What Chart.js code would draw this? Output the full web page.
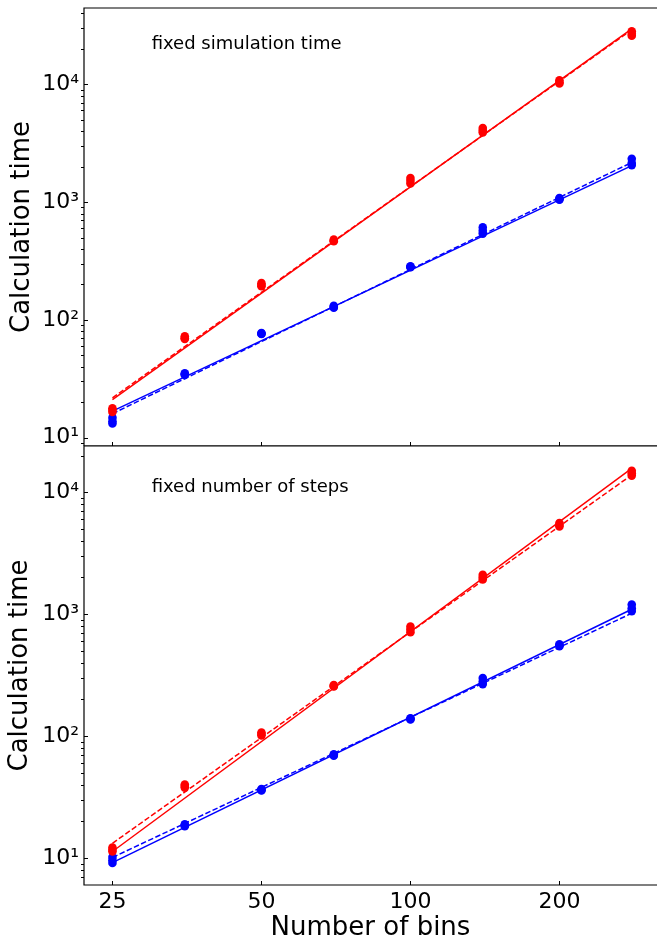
<!DOCTYPE html>
<html><head><meta charset="utf-8">
<script src="https://cdn.jsdelivr.net/npm/chart.js@4"></script>
<style>
html,body{margin:0;padding:0;background:#fff;width:657px;height:944px;overflow:hidden}
canvas{position:absolute;left:0}
#top{top:0}
#bot{top:440px}
</style></head><body>
<canvas id="top" width="657" height="446"></canvas>
<canvas id="bot" width="657" height="504"></canvas>
<script>
// ---- data ----
const bins = [25, 35, 50, 70, 100, 140, 200, 280];
const fitBins = [25, 280];
const xTickValues = [25, 50, 100, 200];

// panel 1: fixed simulation time (three repeated runs per method)
const topRedRun1  = [17.8, 72.5, 205, 480, 1600, 4250, 10800, 28200];
const topRedRun2  = [17.2, 70,   198, 470, 1520, 4050, 10400, 26800];
const topRedRun3  = [16.5, 69,   193, 465, 1440, 3900, 10150, 25800];
const topBlueRun1 = [14.8, 35.2, 77.5, 132, 285, 610, 1080, 2330];
const topBlueRun2 = [13.8, 34.5, 76.5, 129, 282, 570, 1060, 2150];
const topBlueRun3 = [13.2, 34.0, 76,   127, 280, 540, 1050, 2060];
const topRedFitSolid   = [21.0, 29500];
const topRedFitDashed  = [21.8, 29000];
const topBlueFitSolid  = [16.8, 2040];
const topBlueFitDashed = [16.0, 2170];

// panel 2: fixed number of steps
const botRedRun1  = [12.2, 40,   107, 262, 790, 2100, 5600, 15000];
const botRedRun2  = [11.7, 39,   104, 258, 750, 2000, 5400, 14300];
const botRedRun3  = [11.3, 37.8, 101, 255, 710, 1930, 5250, 13700];
const botBlueRun1 = [10.2, 18.9, 36.8, 71, 140,   300, 565, 1200];
const botBlueRun2 = [9.6,  18.5, 36.2, 70, 138.5, 280, 555, 1120];
const botBlueRun3 = [9.1,  18.2, 35.8, 69, 137,   267, 545, 1060];
const botRedFitSolid   = [11.3, 15700];
const botRedFitDashed  = [13.2, 13870];
const botBlueFitSolid  = [9.15, 1097];
const botBlueFitDashed = [10.1, 1017];

const yTitle = 'Calculation time';
const xTitle = 'Number of bins';
const topNote = 'fixed simulation time';
const botNote = 'fixed number of steps';
const topNoteAt = [30, 20000];
const botNoteAt = [30, 10000];

const xRange = [21.9, 314.9];
const topYRange = [8.5, 44430];
const botYRange = [6.004, 23970];

// ---- rendering ----
const FONT = "'DejaVu Sans', sans-serif";
const RED = '#ff0000', BLUE = '#0000ff';
const SUP = {0:'⁰',1:'¹',2:'²',3:'³',4:'⁴',5:'⁵'};

function pts(xs, ys){ return xs.map((x,i)=>({x:x, y:ys[i]})); }
function pointSet(ys, color){
  return {data: pts(bins, ys), backgroundColor: color, borderColor: color, borderWidth: 0,
          pointRadius: 4.3, pointHoverRadius: 4.3, showLine: false};
}
function fitSet(ys, color, dashed){
  return {data: pts(fitBins, ys), borderColor: color, backgroundColor: color, borderWidth: 1.5,
          borderDash: dashed ? [5.5, 2.4] : [], pointRadius: 0, showLine: true, fill: false};
}
function decadeLabel(value){
  const e = Math.log10(value);
  const r = Math.round(e);
  if (Math.abs(e - r) < 1e-6) return '10' + SUP[r];
  return '';
}
function zeroPad(s){ s.paddingTop = 0; s.paddingBottom = 0; s.paddingLeft = 0; s.paddingRight = 0; }

const framePlugin = {
  id: 'frame',
  afterDraw(chart, args, opts){
    const {ctx, chartArea: a} = chart;
    const x = chart.scales.x, y = chart.scales.y;
    ctx.save();
    ctx.strokeStyle = '#000';
    ctx.lineWidth = 1.2;
    ctx.beginPath();
    ctx.moveTo(a.right + 2, a.top); ctx.lineTo(a.left, a.top);
    ctx.lineTo(a.left, a.bottom); ctx.lineTo(a.right + 2, a.bottom);
    ctx.stroke();
    ctx.lineWidth = 1;
    ctx.beginPath();
    const lo = Math.floor(Math.log10(y.min)), hi = Math.ceil(Math.log10(y.max));
    for (let d = lo; d <= hi; d++){
      for (let k = 1; k <= 9; k++){
        const v = k * Math.pow(10, d);
        if (v < y.min || v > y.max) continue;
        const py = Math.round(y.getPixelForValue(v)) + 0.5;
        if (k === 1){ ctx.moveTo(a.left, py); ctx.lineTo(a.left + 4, py); }
        else { ctx.moveTo(a.left - 3, py); ctx.lineTo(a.left, py); }
      }
    }
    xTickValues.forEach(v => {
      const px = Math.round(x.getPixelForValue(v)) + 0.5;
      ctx.moveTo(px, a.bottom); ctx.lineTo(px, a.bottom - 4);
    });
    ctx.stroke();
    ctx.fillStyle = '#000';
    ctx.font = '18px ' + FONT;
    ctx.textAlign = 'left';
    ctx.textBaseline = 'alphabetic';
    ctx.fillText(opts.text, x.getPixelForValue(opts.at[0]), y.getPixelForValue(opts.at[1]));
    ctx.restore();
  }
};

function datasets(r1, r2, r3, b1, b2, b3, rs, rd, bs, bd){
  return [
    pointSet(r1, RED), pointSet(r2, RED), pointSet(r3, RED),
    pointSet(b1, BLUE), pointSet(b2, BLUE), pointSet(b3, BLUE),
    fitSet(rs, RED, false), fitSet(rd, RED, true),
    fitSet(bs, BLUE, false), fitSet(bd, BLUE, true)
  ];
}

function yScale(range, titlePad){
  return {
    type: 'logarithmic', min: range[0], max: range[1],
    grid: {display: false, drawTicks: false}, border: {display: false},
    ticks: {autoSkip: false, font: {family: FONT, size: 22}, color: '#000', padding: 5, callback: decadeLabel},
    title: {display: true, text: yTitle, font: {family: FONT, size: 26}, color: '#000', padding: {top: titlePad, bottom: 0}},
    afterFit: s => { s.width = 84; zeroPad(s); }
  };
}

new Chart(document.getElementById('top'), {
  type: 'scatter',
  data: {datasets: datasets(topRedRun1, topRedRun2, topRedRun3, topBlueRun1, topBlueRun2, topBlueRun3,
                            topRedFitSolid, topRedFitDashed, topBlueFitSolid, topBlueFitDashed)},
  options: {
    responsive: false, animation: false, devicePixelRatio: 1,
    layout: {autoPadding: false, padding: {top: 8, left: 0, right: 0, bottom: 0}},
    plugins: {legend: {display: false}, tooltip: {enabled: false}, frame: {text: topNote, at: topNoteAt}},
    scales: {
      x: {type: 'logarithmic', min: xRange[0], max: xRange[1], grid: {display: false, drawTicks: false}, border: {display: false},
          ticks: {display: false}, afterFit: s => { s.height = 0; zeroPad(s); }},
      y: yScale(topYRange, 7)
    }
  },
  plugins: [framePlugin]
});

new Chart(document.getElementById('bot'), {
  type: 'scatter',
  data: {datasets: datasets(botRedRun1, botRedRun2, botRedRun3, botBlueRun1, botBlueRun2, botBlueRun3,
                            botRedFitSolid, botRedFitDashed, botBlueFitSolid, botBlueFitDashed)},
  options: {
    responsive: false, animation: false, devicePixelRatio: 1,
    layout: {autoPadding: false, padding: {top: 6, left: 0, right: 0, bottom: 0}},
    plugins: {legend: {display: false}, tooltip: {enabled: false}, frame: {text: botNote, at: botNoteAt}},
    scales: {
      x: {type: 'logarithmic', min: xRange[0], max: xRange[1], grid: {display: false, drawTicks: false}, border: {display: false},
          afterBuildTicks: s => { s.ticks = xTickValues.map(v => ({value: v})); },
          ticks: {autoSkip: false, maxRotation: 0, font: {family: FONT, size: 22}, color: '#000', padding: 4,
                  callback: v => String(v)},
          title: {display: true, text: xTitle, font: {family: FONT, size: 26}, color: '#000', padding: {top: 0, bottom: 0}},
          afterFit: s => { s.height = 59; zeroPad(s); }},
      y: yScale(botYRange, 5)
    }
  },
  plugins: [framePlugin]
});
</script>
</body></html>
